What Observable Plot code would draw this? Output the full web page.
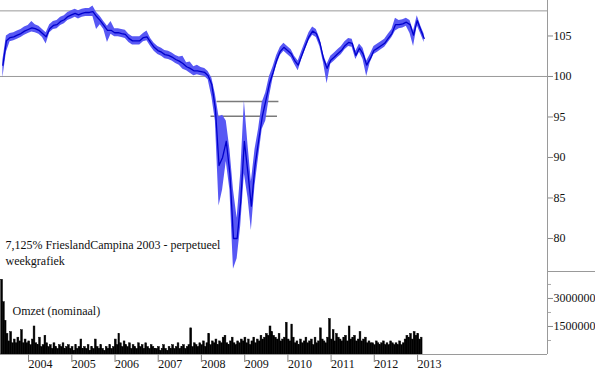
<!DOCTYPE html>
<html><head><meta charset="utf-8">
<script src="https://cdn.jsdelivr.net/npm/d3@7"></script>
<script src="https://cdn.jsdelivr.net/npm/@observablehq/plot@0.6"></script>
<style>
body{margin:0;background:#fff;}
#chart{position:relative;width:595px;height:372px;overflow:hidden;background:#fff;}
#chart svg{display:block;font-family:"Liberation Serif",serif;}
#sep{position:absolute;left:548px;top:271px;width:47px;height:0;border-top:1px solid #999;}
</style></head><body><div id="chart"></div>
<script>
// ---- data ----
const firstMonth = "2003-06";           // monthly points, Jun 2003 .. Mar 2013
const priceClose = [
  101.4, 104.4, 104.8, 104.9, 105.1, 105.3, 105.6,
  105.8, 106.0, 105.9, 105.7, 105.3, 104.9, 105.9, 106.3, 106.4, 106.8, 107.0, 107.4,
  107.6, 107.8, 107.6, 107.8, 107.9, 107.9, 108.0, 107.4, 106.9, 106.3, 105.7, 105.7,
  105.4, 105.4, 105.3, 105.2, 104.7, 104.4, 104.4, 104.4, 104.8, 104.9, 104.2, 103.6,
  103.2, 103.0, 102.7, 102.6, 102.4, 102.1, 101.9, 101.6, 101.2, 101.0, 100.7, 100.7,
  100.6, 100.5, 100.1, 99.0, 96.0, 89.0, 90.0, 92.0, 88.0, 80.0, 80.0, 84.5,
  92.0, 88.0, 84.0, 89.0, 92.0, 95.0, 97.0, 99.1, 100.5, 102.0, 103.1, 103.6,
  103.2, 102.8, 102.0, 101.4, 102.6, 103.8, 104.9, 105.6, 105.3, 104.2, 102.2, 101.0,
  102.0, 102.4, 102.8, 103.2, 103.8, 104.2, 104.1, 102.6, 103.5, 102.8, 101.4, 102.2,
  103.2, 103.5, 103.8, 104.1, 104.7, 105.3, 106.4, 106.4, 106.5, 106.7, 106.4, 105.1,
  106.9, 105.7, 104.7
];
const priceHigh = [
  102.0, 105.0, 105.3, 105.4, 105.6, 105.8, 106.1,
  106.3, 106.8, 106.4, 106.2, 105.8, 105.4, 106.4, 106.8, 106.9, 107.3, 107.5, 107.9,
  108.1, 108.3, 108.1, 108.3, 108.4, 108.4, 108.7, 107.9, 107.4, 106.8, 106.2, 106.8,
  105.9, 105.9, 105.8, 105.7, 105.2, 104.9, 104.9, 104.9, 105.3, 105.6, 104.7, 104.1,
  103.7, 103.5, 103.2, 103.1, 102.9, 102.6, 102.4, 102.5, 101.7, 101.8, 101.2, 101.4,
  101.1, 101.0, 100.6, 99.8, 97.8, 95.0, 95.2, 94.5, 91.0, 86.0, 82.5, 88.0,
  97.0, 91.5, 87.0, 91.0, 93.5, 96.8, 98.0, 100.0, 101.2, 102.6, 103.6, 104.1,
  103.7, 103.3, 102.5, 101.9, 103.1, 104.3, 105.4, 106.1, 105.8, 104.7, 102.7, 101.5,
  102.5, 102.9, 103.3, 103.7, 104.3, 104.7, 104.6, 103.1, 104.0, 103.5, 101.9, 102.7,
  103.7, 104.0, 104.3, 104.6, 105.2, 105.8, 107.2, 106.9, 107.0, 107.2, 106.9, 105.6,
  107.5, 106.2, 105.2
];
const priceLow = [
  99.8, 103.0, 104.3, 104.4, 104.6, 104.8, 105.1,
  105.3, 105.5, 105.4, 105.2, 104.8, 104.0, 105.4, 105.8, 105.9, 106.3, 106.5, 106.9,
  107.1, 107.3, 107.1, 107.3, 107.4, 107.4, 107.4, 105.8, 106.4, 105.8, 104.2, 105.2,
  104.9, 104.9, 104.8, 104.7, 104.2, 103.9, 103.9, 103.9, 104.3, 104.4, 103.7, 103.1,
  102.7, 102.5, 102.2, 102.1, 101.9, 101.6, 101.4, 100.9, 100.7, 100.4, 100.1, 100.2,
  100.1, 100.0, 99.6, 97.5, 94.5, 84.0, 86.0, 89.5, 86.0, 76.2, 77.5, 81.5,
  88.0, 85.0, 81.0, 86.5, 90.0, 93.5, 94.5, 97.5, 99.8, 101.4, 102.6, 103.1,
  102.7, 102.3, 101.5, 100.7, 102.1, 103.3, 104.4, 105.1, 104.8, 103.7, 101.7, 99.1,
  101.5, 101.9, 102.3, 102.7, 103.3, 103.7, 103.6, 102.1, 103.0, 102.1, 100.0, 101.7,
  102.7, 103.0, 103.3, 103.6, 104.2, 104.8, 105.6, 105.9, 106.0, 106.2, 105.3, 103.7,
  106.3, 105.2, 104.2
];
// turnover per half month, in units of 100 000 (Jun 2003 .. Feb 2013)
const volumeStart = "2003-06-01";
const volume = [
  40, 28, 18, 11, 7, 12, 6, 8, 6, 9, 7, 13, 6, 8,
  6, 7, 5, 8, 15, 6, 5, 9, 4, 5, 10, 6, 4, 5, 3, 6, 4, 3, 5, 4, 6, 3, 4, 5,
  3, 4, 2, 5, 3, 4, 8, 3, 4, 3, 5, 2, 4, 3, 8, 4, 3, 5, 3, 2, 4, 3, 5, 3,
  4, 8, 5, 11, 6, 4, 7, 5, 4, 6, 3, 5, 4, 3, 6, 4, 5, 3, 6, 4, 3, 5, 4, 3,
  3, 4, 2, 3, 5, 3, 2, 4, 3, 5, 3, 4, 6, 3, 4, 5, 3, 4, 5, 14, 4, 6, 5, 4,
  6, 5, 7, 4, 6, 11, 5, 7, 6, 8, 5, 7, 6, 9, 10, 6, 5, 7, 9, 6, 5, 7, 6, 8,
  7, 9, 6, 8, 5, 7, 9, 6, 8, 7, 10, 8, 9, 11, 10, 15, 12, 10, 9, 8, 11, 7, 8, 9,
  17, 8, 7, 16, 9, 6, 7, 5, 8, 6, 7, 9, 6, 7, 8, 5, 9, 6, 7, 14, 8, 7, 6, 9,
  19, 8, 13, 7, 11, 9, 8, 7, 9, 10, 7, 15, 8, 9, 10, 7, 8, 12, 7, 8, 9, 6, 7, 6,
  6, 5, 7, 6, 5, 6, 7, 5, 6, 5, 7, 6, 5, 6, 5, 7, 5, 6, 8, 10, 9, 11, 8, 12,
  10, 11, 8, 9
];
const priceTicks = [80, 85, 90, 95, 100, 105];
const volumeTicks = [1500000, 3000000];
const volumeMinorTicks = [750000, 2250000, 3750000];
const yearTicks = [2004, 2005, 2006, 2007, 2008, 2009, 2010, 2011, 2012, 2013];
const levelLines = [108.1, 100];
const rangeLines = [
  {level: 96.9, from: "2008-05-29", to: "2009-11-03"},
  {level: 95.1, from: "2008-04-08", to: "2009-10-22"}
];
const dateRange = ["2003-05-26", "2016-01-21"];
const titleText = "7,125% FrieslandCampina 2003 - perpetueel\nweekgrafiek";
const volumeLabel = "Omzet (nominaal)";

// ---- build tables ----
const m0 = new Date(firstMonth + "-01");
const priceData = priceClose.map((c, i) => ({
  date: d3.utcDay.offset(d3.utcMonth.offset(m0, i), 14),
  close: c, high: priceHigh[i], low: priceLow[i]
}));
const v0 = new Date(volumeStart);
const halfStart = j => d3.utcDay.offset(d3.utcMonth.offset(v0, Math.floor(j / 2)), (j % 2) * 15);
const volData = volume.map((v, j) => ({start: halfStart(j), end: halfStart(j + 1), vol: v * 100000}));
const xDomain = dateRange.map(d => new Date(d));
const yearDates = yearTicks.map(y => new Date(`${y}-01-01`));

const FF = "'Liberation Serif', 'Times New Roman', serif";
const style = {fontFamily: FF, fontSize: "12px", color: "#111", background: "white", overflow: "visible"};

const pricePlot = Plot.plot({
  width: 595, height: 272,
  marginLeft: 0, marginRight: 48, marginTop: 0, marginBottom: 0,
  style,
  x: {type: "utc", domain: xDomain, axis: null},
  y: {domain: [75.8, 109.38], axis: null},
  marks: [
    Plot.ruleY(levelLines, {stroke: "#9a9a9a", strokeWidth: 1}),
    Plot.ruleY(rangeLines, {y: "level", x1: d => new Date(d.from), x2: d => new Date(d.to), stroke: "#7a7a7a", strokeWidth: 1.5}),
    Plot.areaY(priceData, {x: "date", y1: "low", y2: "high", fill: "#5858f4"}),
    Plot.lineY(priceData, {x: "date", y: "close", stroke: "#0000cc", strokeWidth: 1.3}),
    Plot.ruleX([xDomain[1]], {stroke: "#9a9a9a"}),
    Plot.axisY({anchor: "right", label: null, ticks: priceTicks, tickSize: 5, tickPadding: 1, stroke: "#888", tickFormat: d => String(d), fontSize: 12, fontFamily: FF}),
    Plot.text([titleText], {frameAnchor: "top-left", dx: 5, dy: 237, lineAnchor: "top", lineHeight: 1.35, textAnchor: "start", fontSize: 12, fontFamily: FF, fill: "#111"})
  ]
});

const volPlot = Plot.plot({
  width: 595, height: 100,
  marginLeft: 0, marginRight: 48, marginTop: 0, marginBottom: 18,
  style,
  x: {type: "utc", domain: xDomain, axis: null},
  y: {domain: [0, 4390000], axis: null},
  marks: [
    Plot.rectY(volData, {x1: "start", x2: "end", y: "vol", fill: "#000", stroke: "#000", strokeWidth: 0.5}),
    Plot.ruleY([0], {stroke: "#9a9a9a"}),
    Plot.ruleX([xDomain[1]], {stroke: "#9a9a9a"}),
    Plot.axisY({anchor: "right", label: null, ticks: volumeTicks, tickSize: 5, tickPadding: 1, stroke: "#888", tickFormat: d => String(d), fontSize: 12, fontFamily: FF}),
    Plot.axisY({anchor: "right", label: null, ticks: volumeMinorTicks, tickSize: 3, stroke: "#aaa", tickFormat: () => ""}),
    Plot.axisX({label: null, ticks: yearDates, tickSize: 8, tickPadding: -3, textAnchor: "start", dx: 2, stroke: "#888", tickFormat: d3.utcFormat("%Y"), fontSize: 12, fontFamily: FF}),
    Plot.text([volumeLabel], {frameAnchor: "top-left", dx: 12, dy: 34, textAnchor: "start", fontSize: 12, fontFamily: FF, fill: "#111"})
  ]
});

const chart = document.getElementById("chart");
chart.appendChild(pricePlot);
chart.appendChild(volPlot);
const sep = document.createElement("div");
sep.id = "sep";
chart.appendChild(sep);
</script>
</body></html>
